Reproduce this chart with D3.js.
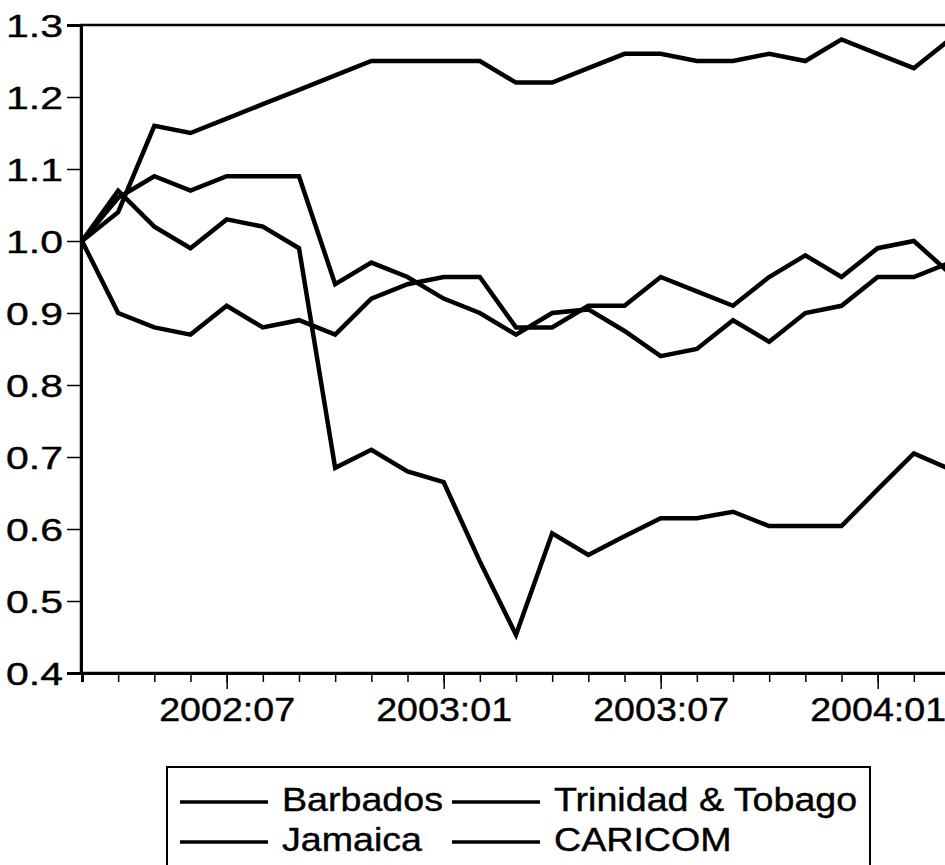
<!DOCTYPE html>
<html lang="en">

<head>
    <meta charset="UTF-8">
    <title>Real exchange rates</title>
    <style>
        body {
            margin: 0;
            background: #fff;
        }

        svg text {
            font-family: "Liberation Sans", Arial, sans-serif;
            font-size: 33px;
            fill: #000;
            stroke: #000;
            stroke-width: 0.4px;
        }
    </style>
</head>

<body>
    <div id="chart"></div>

    <script src="https://d3js.org/d3.v7.min.js"></script>
    <script>
        // monthly observations, 2002:03 - 2004:03
        const months = [
            "2002:03", "2002:04", "2002:05", "2002:06", "2002:07", "2002:08", "2002:09",
            "2002:10", "2002:11", "2002:12", "2003:01", "2003:02", "2003:03", "2003:04",
            "2003:05", "2003:06", "2003:07", "2003:08", "2003:09", "2003:10", "2003:11",
            "2003:12", "2004:01", "2004:02", "2004:03"
        ];
        const labelledMonths = ["2002:07", "2003:01", "2003:07", "2004:01"];
        const yTicks = [0.4, 0.5, 0.6, 0.7, 0.8, 0.9, 1.0, 1.1, 1.2, 1.3];

        const barbados = [1.00, 0.90, 0.88, 0.87, 0.91, 0.88, 0.89, 0.87, 0.92, 0.94, 0.95, 0.95, 0.88,
            0.88, 0.91, 0.91, 0.95, 0.93, 0.91, 0.95, 0.98, 0.95, 0.99, 1.00, 0.955];
        const trinidad = [1.00, 1.04, 1.16, 1.15, 1.17, 1.19, 1.21, 1.23, 1.25, 1.25, 1.25, 1.25, 1.22,
            1.22, 1.24, 1.26, 1.26, 1.25, 1.25, 1.26, 1.25, 1.28, 1.26, 1.24, 1.28];
        const jamaica = [1.00, 1.07, 1.02, 0.99, 1.03, 1.02, 0.99, 0.685, 0.71, 0.68, 0.665, 0.555, 0.453,
            0.594, 0.564, 0.59, 0.615, 0.615, 0.624, 0.604, 0.604, 0.604, 0.655, 0.705, 0.683];
        const caricom = [1.00, 1.06, 1.09, 1.07, 1.09, 1.09, 1.09, 0.94, 0.97, 0.95, 0.92, 0.90, 0.87,
            0.90, 0.905, 0.875, 0.84, 0.85, 0.89, 0.86, 0.90, 0.91, 0.95, 0.95, 0.97];

        const seriesNames = ["Barbados", "Trinidad & Tobago", "Jamaica", "CARICOM"];
        const seriesValues = [barbados, trinidad, jamaica, caricom];

        const width = 945;
        const height = 865;
        const stretch = 1.14;   // the type in the original is a bit wide
        const yStretch = 1.28;  // and the y labels even wider

        const svg = d3.select("#chart")
            .append("svg")
            .attr("width", width)
            .attr("height", height);

        const x = d3.scaleLinear()
            .domain([0, months.length - 1])
            .range([82, 950]);

        const y = d3.scaleLinear()
            .domain([0.4, 1.3])
            .range([673, 25]);

        // frame (right side runs off the page)
        svg.append("rect")
            .attr("x", 81)
            .attr("y", y(1.3))
            .attr("width", 950 - 81)
            .attr("height", y(0.4) - y(1.3))
            .attr("fill", "none")
            .attr("stroke", "#000")
            .attr("stroke-width", 2.5);

        // y axis
        const yAxis = svg.append("g")
            .attr("transform", "translate(81,0)")
            .call(d3.axisLeft(y).tickValues(yTicks).tickSize(14).tickFormat(d3.format(".1f")));

        yAxis.select(".domain").attr("stroke-width", 3);
        yAxis.selectAll(".tick line").attr("stroke-width", 1.5);
        yAxis.selectAll(".tick text")
            .attr("x", -18 / yStretch)
            .attr("dy", "0.36em")
            .attr("transform", `scale(${yStretch},1)`)
            .style("font-size", "32px")
            .style("font-family", null);

        // x axis: a tick each month, longer ones with labels
        const xMinor = svg.append("g")
            .attr("transform", `translate(0,${y(0.4)})`)
            .call(d3.axisBottom(x).tickValues(d3.range(months.length)).tickSize(9).tickFormat(""));

        xMinor.select(".domain").attr("stroke-width", 3);
        xMinor.selectAll(".tick line").attr("stroke-width", 1.5);

        const xMajor = svg.append("g")
            .attr("transform", `translate(0,${y(0.4)})`)
            .call(d3.axisBottom(x)
                .tickValues(labelledMonths.map(m => months.indexOf(m)))
                .tickSize(16)
                .tickFormat(i => months[i]));

        xMajor.select(".domain").remove();
        xMajor.selectAll(".tick line").attr("stroke-width", 1.5);
        xMajor.selectAll(".tick text")
            .attr("y", 48)
            .attr("dy", 0)
            .attr("transform", `scale(${stretch},1)`)
            .style("font-size", "33px")
            .style("font-family", null);

        // series
        const line = d3.line()
            .x((d, i) => x(i))
            .y(d => y(d));

        svg.append("g")
            .selectAll("path")
            .data(seriesValues)
            .enter()
            .append("path")
            .attr("d", d => line(d))
            .attr("fill", "none")
            .attr("stroke", "#000")
            .attr("stroke-width", 4.5)
            .attr("stroke-linejoin", "miter");

        // legend
        const legend = svg.append("g");

        legend.append("rect")
            .attr("x", 167)
            .attr("y", 767)
            .attr("width", 870 - 167)
            .attr("height", 140)
            .attr("fill", "none")
            .attr("stroke", "#000")
            .attr("stroke-width", 2);

        const cols = [180, 452];
        const rows = [802, 842];

        const items = legend.selectAll(".item")
            .data(seriesNames)
            .enter()
            .append("g")
            .attr("class", "item")
            .attr("transform", (d, i) => `translate(${cols[i % 2]},${rows[Math.floor(i / 2)]})`);

        items.append("line")
            .attr("x1", 0)
            .attr("x2", 88)
            .attr("stroke", "#000")
            .attr("stroke-width", 3.5);

        items.append("text")
            .attr("x", 102 / stretch)
            .attr("y", 9)
            .attr("transform", `scale(${stretch},1)`)
            .text(d => d);
    </script>
</body>

</html>
